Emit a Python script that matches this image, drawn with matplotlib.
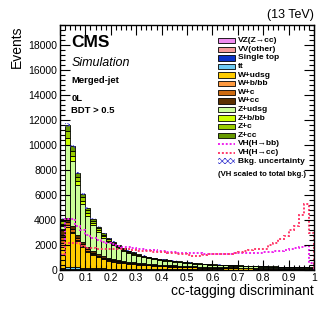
import numpy as np
import matplotlib
matplotlib.use("Agg")
import matplotlib.pyplot as plt
from matplotlib.patches import Rectangle
from matplotlib.lines import Line2D
from matplotlib.ticker import MultipleLocator, FixedLocator

plt.rcParams['font.family'] = ['Liberation Sans', 'DejaVu Sans']
plt.rcParams['hatch.linewidth'] = 0.5

# ---------------- data ----------------
bin_edges = np.linspace(0.0, 1.0, 51)

vz_zcc = [10, 20, 20, 18, 16, 14, 12, 11, 10, 9, 8, 8, 7, 7, 6, 6, 6, 5, 5, 5,
          5, 5, 5, 5, 5, 5, 5, 5, 5, 5, 5, 5, 5, 5, 5, 5, 5, 5, 5, 5,
          5, 5, 5, 5, 5, 5, 5, 6, 6, 6]
vv_other = [20, 40, 40, 35, 30, 26, 22, 20, 18, 16, 15, 14, 13, 12, 11, 10, 10, 9, 9, 8,
            8, 8, 7, 7, 7, 7, 6, 6, 6, 6, 6, 6, 6, 5, 5, 5, 5, 5, 5, 5,
            5, 5, 5, 5, 5, 5, 5, 5, 5, 5]
single_top = [40, 60, 60, 55, 50, 45, 40, 36, 33, 30, 28, 26, 24, 22, 21, 20, 19, 18, 17, 16,
              15, 15, 14, 14, 13, 13, 12, 12, 12, 11, 11, 11, 10, 10, 10, 10, 10, 9, 9, 9,
              9, 9, 9, 8, 8, 8, 8, 8, 8, 8]
ttbar = [80, 120, 110, 100, 90, 80, 72, 65, 60, 55, 50, 46, 43, 40, 38, 36, 34, 32, 30, 29,
         28, 27, 26, 25, 24, 23, 22, 22, 21, 21, 20, 20, 19, 19, 18, 18, 18, 17, 17, 17,
         16, 16, 16, 15, 15, 15, 15, 14, 14, 14]
w_udsg = [1700, 3200, 2700, 2100, 1650, 1300, 1050, 870, 740, 640, 560, 500, 450, 410, 380, 350, 320, 300, 280, 260,
          240, 225, 210, 195, 180, 170, 160, 150, 140, 130, 120, 115, 110, 105, 100, 95, 90, 85, 80, 76,
          72, 68, 64, 60, 56, 52, 48, 44, 40, 36]
w_bb = [300, 150, 130, 110, 90, 75, 65, 56, 50, 45, 40, 37, 34, 31, 29, 27, 25, 23, 22, 21,
        20, 19, 18, 17, 16, 15, 15, 14, 14, 13, 13, 12, 12, 12, 11, 11, 11, 10, 10, 10,
        10, 9, 9, 9, 9, 8, 8, 8, 8, 8]
w_c = [500, 250, 200, 170, 140, 120, 100, 88, 78, 70, 63, 58, 53, 49, 45, 42, 39, 37, 35, 33,
       31, 30, 28, 27, 26, 25, 24, 23, 22, 21, 20, 20, 19, 18, 18, 17, 16, 16, 15, 15,
       14, 14, 13, 13, 12, 12, 12, 11, 11, 10]
w_cc = [600, 300, 250, 220, 190, 170, 150, 135, 122, 112, 104, 97, 91, 86, 82, 78, 74, 71, 68, 65,
        62, 60, 58, 56, 54, 52, 50, 48, 46, 45, 44, 43, 42, 41, 40, 39, 38, 37, 36, 35,
        34, 33, 32, 31, 30, 29, 28, 27, 26, 25]
z_udsg = [300, 5900, 5190, 4000, 3060, 2520, 2090, 1750, 1480, 1260, 1130, 970, 820, 715, 620, 550, 490, 430, 390, 355,
          340, 320, 300, 270, 250, 220, 205, 190, 180, 165, 160, 150, 145, 135, 130, 120, 115, 110, 110, 105,
          100, 95, 95, 90, 90, 85, 80, 80, 75, 65]
z_bb = [150, 500, 400, 310, 240, 195, 160, 135, 115, 100, 88, 78, 68, 60, 54, 48, 43, 39, 36, 33,
        30, 28, 26, 24, 22, 21, 20, 19, 18, 17, 16, 15, 14, 14, 13, 13, 12, 12, 11, 11,
        10, 10, 10, 9, 9, 9, 8, 8, 8, 8]
z_c = [200, 600, 450, 350, 275, 225, 185, 155, 132, 115, 100, 90, 80, 70, 63, 56, 50, 46, 42, 38,
       35, 33, 31, 29, 27, 25, 24, 23, 22, 21, 20, 19, 18, 17, 16, 16, 15, 15, 14, 14,
       13, 13, 12, 12, 12, 11, 11, 11, 10, 10]
z_cc = [200, 460, 350, 280, 220, 180, 150, 125, 108, 94, 82, 73, 65, 58, 52, 47, 43, 40, 37, 35,
        33, 31, 30, 29, 28, 27, 26, 25, 24, 23, 22, 21, 20, 20, 19, 19, 18, 18, 17, 17,
        17, 16, 16, 16, 15, 15, 15, 15, 14, 14]

vh_hbb = [1200, 4100, 4100, 3500, 3200, 2800, 2600, 2400, 2270, 2130, 2050, 1950, 1880, 1820, 1760, 1700, 1650, 1620, 1580, 1550,
          1500, 1450, 1420, 1400, 1380, 1350, 1340, 1330, 1320, 1310, 1300, 1300, 1310, 1320, 1330, 1350, 1360, 1380, 1400, 1400,
          1420, 1450, 1500, 1550, 1600, 1650, 1750, 1850, 1900, 600]
vh_hcc = [1300, 2150, 2200, 2150, 1900, 1800, 1750, 1700, 1700, 1700, 1720, 1700, 1700, 1650, 1600, 1550, 1500, 1500, 1480, 1460,
          1450, 1400, 1350, 1300, 1250, 1200, 1150, 1150, 1200, 1250, 1300, 1300, 1300, 1320, 1350, 1450, 1500, 1600, 1650, 1650,
          1700, 2000, 2150, 2500, 2700, 3200, 3500, 4400, 5300, 2950]

bkg_unc_rel = 0.012

legend_labels = ["VZ(Z\u2192cc)", "VV(other)", "Single top", "tt", "W+udsg", "W+b/bb",
                 "W+c", "W+cc", "Z+udsg", "Z+b/bb", "Z+c", "Z+cc"]
xtick_values = [0, 0.1, 0.2, 0.3, 0.4, 0.5, 0.6, 0.7, 0.8, 0.9, 1.0]
xtick_labels = ["0", "0.1", "0.2", "0.3", "0.4", "0.5", "0.6", "0.7", "0.8", "0.9", "1"]
ytick_values = [0, 2000, 4000, 6000, 8000, 10000, 12000, 14000, 16000, 18000]
ytick_labels = ["0", "2000", "4000", "6000", "8000", "10000", "12000", "14000", "16000", "18000"]

# ---------------- styling ----------------
components = [vz_zcc, vv_other, single_top, ttbar, w_udsg, w_bb, w_c, w_cc,
              z_udsg, z_bb, z_c, z_cc]
colors = ["#f08cf0", "#f59a9a", "#0a32c8", "#6ccbf5", "#ffcc00", "#ff9a40",
          "#cc6a10", "#5c3000", "#ccff99", "#ccff00", "#99cc00", "#669900"]

fig = plt.figure(figsize=(3.32, 3.19), dpi=100)
ax = fig.add_axes([60/332, 1-270/319, 254/332, 245/319])

left = bin_edges[:-1]
width = np.diff(bin_edges)
bottom = np.zeros(50)
for vals, col in zip(components, colors):
    v = np.array(vals, dtype=float)
    ax.bar(left, v, width=width, bottom=bottom, align='edge', color=col,
           edgecolor='black', linewidth=0.6)
    bottom = bottom + v

total = bottom
unc = total * bkg_unc_rel
ax.bar(left, 2*unc, width=width, bottom=total-unc, align='edge', facecolor='none',
       edgecolor='#3a3ad0', hatch='xxxxxx', linewidth=0)

dot = (0, (1, 1))
ax.stairs(vh_hbb, bin_edges, color='#ee22ee', linestyle=dot, linewidth=1.4)
ax.stairs(vh_hcc, bin_edges, color='#ff3a6a', linestyle=dot, linewidth=1.4)

ax.set_xlim(0, 1)
ax.set_ylim(0, 19600)
ax.xaxis.set_major_locator(FixedLocator(xtick_values))
ax.set_xticklabels(xtick_labels)
ax.yaxis.set_major_locator(FixedLocator(ytick_values))
ax.set_yticklabels(ytick_labels)
ax.xaxis.set_minor_locator(MultipleLocator(0.02))
ax.yaxis.set_minor_locator(MultipleLocator(400))
ax.tick_params(which='both', direction='in', top=True, right=True, width=0.8)
ax.tick_params(which='major', length=7, labelsize=7.5, pad=2)
ax.tick_params(which='minor', length=3.5)
for s in ax.spines.values():
    s.set_linewidth(1.0)

ax.set_xlabel("cc-tagging discriminant", fontsize=10, loc='right', labelpad=1)
ax.set_ylabel("Events", fontsize=10, loc='top', labelpad=3)
ax.text(1.0, 1.015, "(13 TeV)", transform=ax.transAxes, ha='right', va='bottom', fontsize=9)

ax.text(0.045, 0.93, "CMS", transform=ax.transAxes, ha='left', va='center',
        fontsize=12.5, fontweight='bold')
ax.text(0.045, 0.845, "Simulation", transform=ax.transAxes, ha='left', va='center',
        fontsize=9, style='italic')
ax.text(0.045, 0.772, "Merged-jet", transform=ax.transAxes, ha='left', va='center',
        fontsize=6.8, fontweight='bold')
ax.text(0.045, 0.70, "0L", transform=ax.transAxes, ha='left', va='center',
        fontsize=6.8, fontweight='bold')
ax.text(0.045, 0.653, "BDT > 0.5", transform=ax.transAxes, ha='left', va='center',
        fontsize=6.8, fontweight='bold')

# legend drawn manually in axes fraction
x0 = (218-60)/254
bw = (235-218)/254
bh = 5.5/245
ytop_px = 40.7
step_px = 8.6
def yfrac(px):
    return (270-px)/245
for i, (lab, col) in enumerate(zip(legend_labels, colors)):
    yc = yfrac(ytop_px + i*step_px)
    ax.add_patch(Rectangle((x0, yc-bh/2), bw, bh, transform=ax.transAxes,
                           facecolor=col, edgecolor='black', linewidth=0.6, clip_on=False))
    ax.text(x0+bw+0.012, yc, lab, transform=ax.transAxes, ha='left', va='center',
            fontsize=6, fontweight='bold')
n = len(legend_labels)
line_items = [("VH(H\u2192bb)", '#ee22ee'), ("VH(H\u2192cc)", '#ff3a6a')]
for j, (lab, col) in enumerate(line_items):
    yc = yfrac(ytop_px + (n+j)*step_px)
    ax.add_line(Line2D([x0, x0+bw], [yc, yc], transform=ax.transAxes, color=col,
                       linestyle=dot, linewidth=1.4))
    ax.text(x0+bw+0.012, yc, lab, transform=ax.transAxes, ha='left', va='center',
            fontsize=6, fontweight='bold')
yc = yfrac(ytop_px + (n+2)*step_px)
ax.add_patch(Rectangle((x0, yc-bh/2), bw, bh, transform=ax.transAxes,
                       facecolor='white', edgecolor='#3a3ad0', hatch='xxxxxx', linewidth=0))
ax.text(x0+bw+0.012, yc, "Bkg. uncertainty", transform=ax.transAxes, ha='left', va='center',
        fontsize=6, fontweight='bold')
ax.text(x0, yfrac(175), "(VH scaled to total bkg.)", transform=ax.transAxes, ha='left',
        va='center', fontsize=5.6, fontweight='bold')

fig.savefig("out.png", dpi=100)
